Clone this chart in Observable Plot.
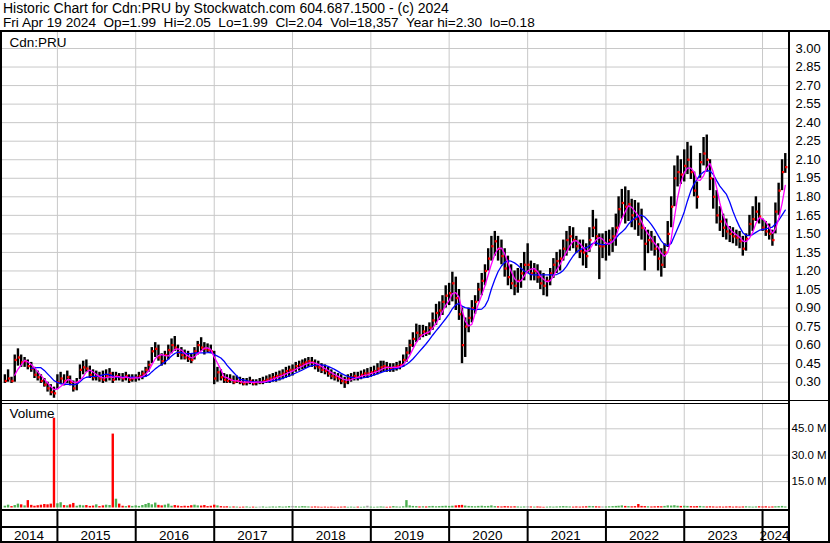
<!DOCTYPE html>
<html><head><meta charset="utf-8">
<script src="https://cdn.jsdelivr.net/npm/d3@7"></script>
<script src="https://cdn.jsdelivr.net/npm/@observablehq/plot@0.6"></script>
<style>
body{margin:0;background:#fff;}
#wrap{position:relative;width:830px;height:543px;overflow:hidden;font-family:"Liberation Sans",Arial,sans-serif;color:#000;background:#fff;}
.hl{position:absolute;background:#000;}
.txt{position:absolute;white-space:pre;line-height:13px;height:13px;}
.panel{position:absolute;left:0;}
</style></head><body>
<div id="wrap"></div>
<script>
// ---- text ----
const titleLine = "Historic Chart for Cdn:PRU by Stockwatch.com 604.687.1500 - (c) 2024";
const infoLine = "Fri Apr 19 2024  Op=1.99  Hi=2.05  Lo=1.99  Cl=2.04  Vol=18,357  Year hi=2.30  lo=0.18";
const symbolLabel = "Cdn:PRU";
const volumeLabel = "Volume";
const yearLabels = ["2014","2015","2016","2017","2018","2019","2020","2021","2022","2023","2024"];
const priceTicks = [0.30,0.45,0.60,0.75,0.90,1.05,1.20,1.35,1.50,1.65,1.80,1.95,2.10,2.25,2.40,2.55,2.70,2.85,3.00];
const volumeTicks = [15,30,45];

// ---- semi-monthly price data (1st and 16th of month), May 2014 .. Apr 2024 ----
const high = [
 0.36,0.40,0.34,0.52,0.57,0.52,0.50,0.48,0.46,0.42,0.39,0.36,0.33,0.30,0.28,0.26,
 0.36,0.38,0.36,0.39,0.35,0.31,0.33,0.44,0.47,0.48,0.43,0.40,0.39,0.38,0.39,0.40,0.41,0.38,0.38,0.37,0.37,0.38,0.36,0.36,
 0.36,0.38,0.39,0.42,0.47,0.58,0.62,0.60,0.53,0.55,0.60,0.65,0.67,0.60,0.58,0.56,0.55,0.53,0.58,0.63,0.66,0.62,0.61,0.60,
 0.55,0.42,0.40,0.37,0.36,0.36,0.35,0.35,0.34,0.33,0.33,0.34,0.32,0.32,0.33,0.34,0.35,0.36,0.37,0.38,0.39,0.40,0.42,0.43,
 0.44,0.46,0.47,0.48,0.49,0.50,0.50,0.48,0.47,0.45,0.44,0.42,0.40,0.38,0.37,0.36,0.34,0.36,0.37,0.38,0.38,0.39,0.40,0.41,
 0.42,0.43,0.45,0.47,0.47,0.46,0.45,0.45,0.46,0.47,0.52,0.58,0.64,0.70,0.77,0.76,0.76,0.75,0.78,0.86,0.93,0.95,1.00,1.08,
 1.10,1.19,1.15,1.05,0.90,0.82,0.90,0.96,1.00,1.10,1.18,1.25,1.38,1.48,1.52,1.48,1.45,1.38,1.32,1.25,1.20,1.22,1.26,1.35,
 1.42,1.28,1.26,1.25,1.20,1.18,1.15,1.22,1.30,1.35,1.37,1.45,1.52,1.56,1.55,1.48,1.45,1.45,1.42,1.55,1.69,1.62,1.50,1.50,
 1.52,1.53,1.55,1.66,1.80,1.86,1.88,1.85,1.78,1.77,1.75,1.70,1.55,1.53,1.52,1.48,1.42,1.38,1.42,1.60,1.80,2.05,2.13,2.10,
 2.18,2.24,2.21,2.00,1.92,2.15,2.28,2.30,2.10,1.95,1.85,1.72,1.66,1.62,1.56,1.55,1.53,1.52,1.48,1.50,1.65,1.72,1.80,1.75,
 1.62,1.60,1.58,1.53,1.75,1.91,2.10,2.15
];
const low = [
 0.29,0.30,0.29,0.30,0.43,0.42,0.42,0.40,0.38,0.33,0.31,0.29,0.26,0.22,0.19,0.17,
 0.24,0.28,0.27,0.29,0.27,0.22,0.23,0.32,0.36,0.38,0.33,0.31,0.31,0.30,0.29,0.30,0.31,0.29,0.31,0.31,0.30,0.31,0.29,0.30,
 0.30,0.31,0.32,0.34,0.38,0.45,0.50,0.47,0.43,0.44,0.48,0.53,0.55,0.50,0.48,0.48,0.46,0.45,0.48,0.52,0.55,0.52,0.54,0.53,
 0.28,0.30,0.31,0.29,0.29,0.29,0.28,0.29,0.28,0.27,0.27,0.28,0.27,0.27,0.28,0.28,0.29,0.29,0.30,0.30,0.31,0.32,0.33,0.34,
 0.35,0.38,0.39,0.40,0.41,0.42,0.42,0.40,0.38,0.37,0.36,0.34,0.32,0.31,0.30,0.28,0.25,0.28,0.30,0.31,0.31,0.32,0.33,0.33,
 0.34,0.35,0.36,0.37,0.38,0.38,0.38,0.38,0.39,0.40,0.42,0.46,0.52,0.58,0.62,0.64,0.66,0.67,0.68,0.72,0.76,0.80,0.84,0.90,
 0.92,0.95,0.88,0.80,0.45,0.50,0.70,0.78,0.85,0.95,1.00,1.08,1.20,1.28,1.32,1.28,1.25,1.15,1.08,1.05,1.00,1.02,1.06,1.12,
 1.18,1.12,1.12,1.10,1.05,1.00,0.99,1.08,1.14,1.18,1.20,1.28,1.32,1.36,1.38,1.34,1.30,1.24,1.22,1.35,1.47,1.40,1.13,1.30,
 1.28,1.32,1.35,1.40,1.55,1.62,1.58,1.60,1.55,1.53,1.48,1.45,1.20,1.34,1.36,1.32,1.20,1.15,1.22,1.39,1.55,1.72,1.88,1.90,
 1.92,1.98,1.94,1.80,1.70,1.95,2.05,2.00,1.85,1.70,1.58,1.52,1.47,1.45,1.43,1.42,1.40,1.38,1.32,1.36,1.48,1.52,1.60,1.58,
 1.52,1.48,1.45,1.40,1.50,1.65,1.85,1.99
];
const close = [
 0.31,0.33,0.31,0.48,0.50,0.46,0.47,0.43,0.41,0.36,0.34,0.31,0.28,0.25,0.22,0.21,
 0.30,0.33,0.31,0.34,0.30,0.25,0.30,0.40,0.42,0.41,0.36,0.34,0.35,0.33,0.32,0.35,0.37,0.32,0.35,0.34,0.33,0.35,0.32,0.33,
 0.34,0.35,0.37,0.40,0.44,0.55,0.57,0.50,0.47,0.52,0.56,0.60,0.58,0.54,0.52,0.50,0.49,0.48,0.55,0.60,0.58,0.57,0.56,0.55,
 0.33,0.38,0.34,0.32,0.31,0.32,0.30,0.31,0.30,0.29,0.30,0.31,0.29,0.30,0.30,0.31,0.32,0.33,0.34,0.35,0.36,0.37,0.39,0.40,
 0.40,0.43,0.44,0.45,0.46,0.47,0.46,0.43,0.42,0.40,0.39,0.37,0.35,0.34,0.33,0.31,0.30,0.33,0.34,0.35,0.34,0.36,0.37,0.37,
 0.38,0.39,0.41,0.42,0.43,0.42,0.41,0.42,0.43,0.44,0.48,0.54,0.60,0.65,0.70,0.68,0.71,0.70,0.74,0.80,0.86,0.88,0.95,1.00,
 1.02,1.10,0.98,0.85,0.60,0.75,0.82,0.90,0.95,1.05,1.12,1.20,1.30,1.40,1.44,1.38,1.32,1.22,1.15,1.10,1.08,1.12,1.18,1.25,
 1.25,1.18,1.20,1.15,1.10,1.08,1.12,1.18,1.25,1.28,1.30,1.38,1.45,1.48,1.45,1.40,1.36,1.35,1.32,1.45,1.55,1.48,1.40,1.40,
 1.42,1.45,1.48,1.55,1.70,1.75,1.72,1.74,1.65,1.62,1.58,1.55,1.42,1.45,1.44,1.38,1.30,1.25,1.35,1.50,1.72,1.95,2.00,1.98,
 2.05,2.10,2.00,1.85,1.80,2.08,2.15,2.10,1.95,1.80,1.65,1.60,1.55,1.52,1.50,1.48,1.47,1.44,1.38,1.46,1.58,1.62,1.68,1.64,
 1.55,1.52,1.50,1.45,1.68,1.85,2.00,2.04
];
// volume in millions of shares
const volume = [
 1.0,1.6,0.8,1.4,2.2,1.8,1.2,4.2,1.5,1.0,1.3,1.6,2.0,1.8,2.2,51.0,
 2.4,3.0,1.4,1.2,1.8,2.6,1.0,1.5,1.2,1.4,0.9,1.1,1.8,0.8,1.2,1.6,1.4,42.0,5.0,2.2,1.0,0.8,1.2,0.9,
 1.2,0.9,1.4,2.0,2.6,1.8,2.8,1.5,1.2,1.6,2.2,1.0,1.4,1.1,0.8,1.0,0.9,1.3,1.6,1.2,1.1,1.4,0.8,1.0,
 1.6,1.2,0.8,0.6,0.7,0.5,0.6,0.5,0.4,0.5,0.6,0.4,0.5,0.4,0.5,0.6,0.4,0.5,0.6,0.5,0.7,0.5,0.6,0.8,
 0.9,0.7,0.6,0.8,0.7,0.6,0.5,0.6,0.5,0.4,0.5,0.4,0.5,0.4,0.4,0.5,0.6,0.4,0.5,0.4,0.5,0.4,0.5,1.0,
 0.5,0.4,0.5,0.6,0.5,0.4,0.5,0.8,0.6,0.5,0.7,4.2,1.2,0.9,0.8,0.6,0.7,0.6,0.8,0.9,0.7,0.8,0.9,1.0,
 0.9,1.0,1.2,1.4,1.5,1.1,0.9,0.8,0.7,0.9,1.0,0.8,0.9,1.2,0.8,0.7,0.6,0.8,0.7,0.6,0.7,0.6,0.5,0.6,
 0.7,0.6,0.5,0.6,0.5,0.4,0.5,0.6,0.5,0.6,0.7,0.8,0.7,0.6,0.5,0.6,0.5,0.6,0.7,0.9,0.8,0.7,0.6,0.6,
 0.6,0.7,0.8,0.9,1.0,1.2,0.9,0.8,0.7,0.8,2.0,0.9,0.8,0.7,0.6,0.7,0.8,0.7,0.9,1.2,1.1,1.3,1.0,0.9,
 1.0,0.9,0.8,0.7,0.8,0.9,0.7,0.6,0.7,0.6,0.5,0.6,0.5,0.6,0.7,0.5,0.6,0.5,0.6,0.7,0.6,0.5,0.6,0.7,
 0.6,0.7,0.5,0.6,0.7,0.8,0.9,0.6
];

// ---- build table ----
const dates = [];
for (let y = 2014; y <= 2024; y++) for (let m = 0; m < 12; m++) for (const d of [1, 16]) {
  const t = Date.UTC(y, m, d);
  if (t >= Date.UTC(2014, 4, 1) && t <= Date.UTC(2024, 3, 16)) dates.push(new Date(t));
}
const data = dates.map((date, i) => ({
  date, high: high[i], low: low[i], close: close[i], vol: volume[i],
  dir: i === 0 ? 1 : Math.sign(close[i] - close[i - 1])
}));
const xDomain = [new Date(Date.UTC(2014, 3, 20)), new Date(Date.UTC(2024, 4, 1))];
const yearStarts = d3.range(2015, 2025).map(y => new Date(Date.UTC(y, 0, 1)));
const yearRows = yearLabels.map(label => {
  const y = +label;
  const a = Math.max(+xDomain[0], Date.UTC(y, 0, 1));
  const b = Math.min(+xDomain[1], Date.UTC(y + 1, 0, 1));
  return {label, mid: new Date((a + b) / 2)};
});

const W = 830, ML = 2, MR = 42;
const font = {fontFamily: '"Liberation Sans", Arial, sans-serif', fontSize: "12.5px", background: "transparent", color: "#000", overflow: "visible"};
const grid = "#c8c8c8";

const pricePlot = Plot.plot({
  width: W, height: 368, marginLeft: ML, marginRight: MR, marginTop: 0, marginBottom: 0,
  style: font,
  x: {type: "utc", domain: xDomain, axis: null},
  y: {domain: [0.30, 3.00], range: [349.7, 16], axis: null},
  marks: [
    Plot.ruleY(priceTicks, {stroke: grid, strokeWidth: 1}),
    Plot.ruleX(yearStarts, {stroke: grid, strokeWidth: 1}),
    Plot.ruleX(data, {x: "date", y1: "low", y2: "high", stroke: "#000", strokeWidth: 2.4}),
    Plot.dot(data, {x: "date", y: "close", symbol: "square", r: 1.3, fill: "#ff0000", stroke: null, dx: 1}),
    Plot.lineY(data, Plot.windowY({k: 9, anchor: "end", strict: true}, {x: "date", y: "close", stroke: "#0000ff", strokeWidth: 1.3})),
    Plot.lineY(data, Plot.windowY({k: 4, anchor: "end", strict: true}, {x: "date", y: "close", stroke: "#ff00ff", strokeWidth: 1.3})),
    Plot.axisY(priceTicks, {anchor: "right", tickSize: 0, tickPadding: 7, tickFormat: d => d.toFixed(2), label: null, fill: "#000", fontSize: 13}),
    Plot.text([symbolLabel], {frameAnchor: "top-left", dx: 7, dy: 5, lineAnchor: "top", fontSize: 13.5, fill: "#000", text: d => d})
  ]
});

const volColor = d => d.dir > 0 ? "#4caf50" : d.dir < 0 ? "#ff0000" : "#a0a0a0";
const volumePlot = Plot.plot({
  width: W, height: 105, marginLeft: ML, marginRight: MR, marginTop: 0, marginBottom: 0,
  style: font,
  x: {type: "utc", domain: xDomain, axis: null},
  y: {domain: [0, 45], range: [103.5, 24.3], axis: null},
  marks: [
    Plot.ruleY(volumeTicks, {stroke: grid, strokeWidth: 1}),
    Plot.ruleX(yearStarts, {stroke: grid, strokeWidth: 1}),
    Plot.ruleX(data, {x: "date", y1: 0, y2: "vol", stroke: volColor, strokeWidth: 2.4}),
    Plot.axisY(volumeTicks, {anchor: "right", tickSize: 0, tickPadding: 3, tickFormat: d => d.toFixed(1) + " M", label: null, fill: "#000", fontSize: 11.5}),
    Plot.text([volumeLabel], {frameAnchor: "top-left", dx: 7, dy: 4, lineAnchor: "top", fontSize: 13.5, fill: "#000", text: d => d})
  ]
});

const bandPlot = Plot.plot({
  width: W, height: 30, marginLeft: ML, marginRight: MR, marginTop: 0, marginBottom: 0,
  style: font,
  x: {type: "utc", domain: xDomain, axis: null},
  marks: [
    Plot.ruleX(yearStarts, {stroke: "#000", strokeWidth: 2}),
    Plot.text(yearRows, {x: "mid", text: "label", frameAnchor: "bottom", lineAnchor: "bottom", dy: -1.5, dx: -1, fontSize: 13.5, fill: "#000"})
  ]
});

const wrap = document.getElementById("wrap");
function place(node, top) { node.classList.add("panel"); node.style.top = top + "px"; wrap.appendChild(node); }
place(pricePlot, 32);
place(volumePlot, 404);
place(bandPlot, 511);

function txt(s, left, top, size) { const d = document.createElement("div"); d.className = "txt"; d.textContent = s; d.style.left = left + "px"; d.style.top = top + "px"; d.style.fontSize = size + "px"; wrap.appendChild(d); }
txt(titleLine, 3, 2, 14);
txt(infoLine, 3, 16, 13.6);

function hl(l, t, w, h) { const d = document.createElement("div"); d.className = "hl"; Object.assign(d.style, {left: l + "px", top: t + "px", width: w + "px", height: h + "px"}); wrap.appendChild(d); }
hl(0, 30, 830, 2);
hl(0, 30, 2, 513);
hl(788, 30, 2, 513);
hl(828, 30, 2, 513);
hl(0, 400, 830, 1);
hl(0, 403, 790, 1);
hl(0, 509, 790, 2);
hl(0, 526, 790, 2);
hl(0, 541, 830, 2);
</script>
</body></html>
